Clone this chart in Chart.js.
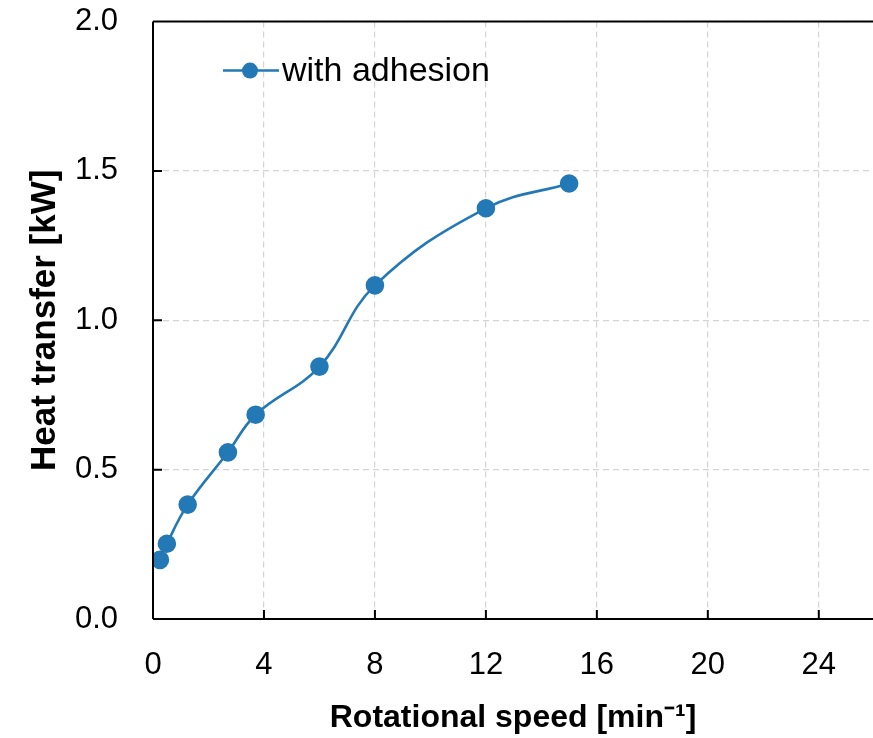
<!DOCTYPE html>
<html><head><meta charset="utf-8">
<script src="https://cdn.jsdelivr.net/npm/chart.js@4/dist/chart.umd.min.js"></script>
<style>
html,body{margin:0;padding:0;background:#fff;overflow:hidden;}
#wrap{position:relative;width:873px;height:738px;overflow:hidden;}
#c{position:absolute;left:0;top:-32px;}
</style></head>
<body>
<div id="wrap"><canvas id="c" width="975" height="770"></canvas></div>
<script>
const speed = [0.25, 0.5, 1.25, 2.7, 3.7, 6, 8, 12, 15];
const heat = [0.198, 0.252, 0.383, 0.558, 0.684, 0.845, 1.117, 1.375, 1.458];
const xTicks = [0, 4, 8, 12, 16, 20, 24, 28];
const yTicks = [0.0, 0.5, 1.0, 1.5, 2.0];
const seriesName = 'with adhesion';
const xTitle = 'Rotational speed [min\u207B\u00B9]';
const yTitle = 'Heat transfer [kW]';

const BLUE = '#2379b5';
const FONT = "'Liberation Sans', Arial, sans-serif";
const VISIBLE_RIGHT = 873;

const frame = {
  id: 'frame',
  afterDatasetsDraw(chart) {
    const {ctx, chartArea: a, scales: {x, y}} = chart;
    ctx.save();
    ctx.strokeStyle = '#000';
    ctx.lineWidth = 2;
    ctx.setLineDash([]);
    ctx.beginPath();
    ctx.moveTo(a.left, a.top); ctx.lineTo(a.right, a.top);
    ctx.moveTo(a.left, a.top); ctx.lineTo(a.left, a.bottom);
    ctx.moveTo(a.left, a.bottom); ctx.lineTo(a.right, a.bottom);
    xTicks.forEach(v => { const px = x.getPixelForValue(v); ctx.moveTo(px, a.bottom); ctx.lineTo(px, a.bottom - 9); });
    yTicks.forEach(v => { const py = y.getPixelForValue(v); ctx.moveTo(a.left, py); ctx.lineTo(a.left + 9, py); });
    ctx.stroke();
    // legend, placed relative to the plot area
    const ly = a.top + 49, lx0 = a.left + 70, lx1 = a.left + 126;
    ctx.strokeStyle = BLUE; ctx.lineWidth = 2.5;
    ctx.beginPath(); ctx.moveTo(lx0, ly); ctx.lineTo(lx1, ly); ctx.stroke();
    ctx.fillStyle = BLUE;
    ctx.beginPath(); ctx.arc(a.left + 97, ly, 8, 0, Math.PI * 2); ctx.fill();
    ctx.fillStyle = '#000';
    ctx.font = "34px " + FONT;
    ctx.textBaseline = 'middle';
    ctx.textAlign = 'left';
    ctx.fillText(seriesName, a.left + 129, ly + 1);
    // x-axis title centred on the visible part of the axis
    ctx.font = "bold 32px " + FONT;
    ctx.textAlign = 'center';
    ctx.fillText(xTitle, (a.left + VISIBLE_RIGHT) / 2, a.bottom + 99);
    ctx.restore();
  }
};

new Chart(document.getElementById('c'), {
  type: 'line',
  data: {
    datasets: [{
      label: seriesName,
      data: speed.map((v, i) => ({x: v, y: heat[i]})),
      borderColor: BLUE,
      backgroundColor: BLUE,
      borderWidth: 2.6,
      pointRadius: 8,
      pointHoverRadius: 8,
      pointBackgroundColor: BLUE,
      pointBorderColor: BLUE,
      tension: 0.4,
      fill: false
    }]
  },
  options: {
    responsive: false,
    animation: false,
    events: [],
    layout: {padding: {top: 20, right: 30, left: 0, bottom: 0}},
    plugins: {legend: {display: false}, tooltip: {enabled: false}},
    scales: {
      x: {
        type: 'linear', min: 0, max: 28,
        afterBuildTicks(s) { s.ticks = xTicks.map(v => ({value: v})); },
        afterFit(s) { s.height = 119; },
        grid: {color: '#d4d4d4', lineWidth: 1.2, drawTicks: false},
        border: {display: false, dash: [6, 4]},
        ticks: {color: '#000', font: {size: 31, family: FONT}, padding: 28, maxRotation: 0, autoSkip: false},
        title: {display: false}
      },
      y: {
        type: 'linear', min: 0, max: 2,
        afterBuildTicks(s) { s.ticks = yTicks.map(v => ({value: v})); },
        afterFit(s) { s.width = 153; },
        grid: {color: '#d4d4d4', lineWidth: 1.2, drawTicks: false},
        border: {display: false, dash: [6, 4]},
        ticks: {color: '#000', font: {size: 31, family: FONT}, padding: 35, callback: v => v.toFixed(1)},
        title: {display: true, text: yTitle, color: '#000', font: {size: 35, weight: 'bold', family: FONT}, padding: {top: 24, bottom: 0}}
      }
    }
  },
  plugins: [frame]
});
</script>
</body></html>
